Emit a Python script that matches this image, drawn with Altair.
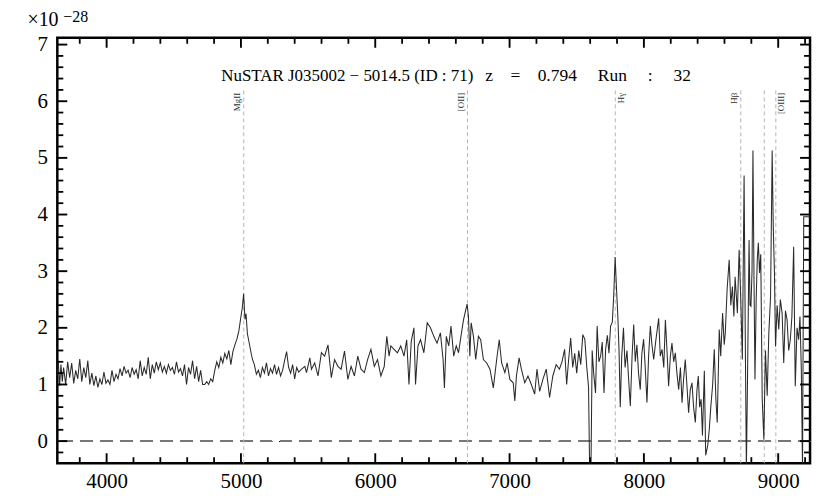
import altair as alt
import pandas as pd

# ---------------- data ----------------
wave = [
    3631, 3640, 3650, 3660, 3670, 3680, 3695, 3710, 3725, 3740, 3755, 3770, 3785, 3800, 3815, 3830,
    3845, 3860, 3875, 3890, 3905, 3920, 3935, 3950, 3965, 3980, 3995, 4010, 4025, 4040, 4055, 4070,
    4085, 4100, 4115, 4130, 4145, 4160, 4175, 4190, 4205, 4220, 4235, 4250, 4265, 4280, 4295, 4310,
    4325, 4340, 4355, 4370, 4385, 4400, 4415, 4430, 4445, 4460, 4475, 4490, 4505, 4520, 4535, 4550,
    4565, 4580, 4595, 4610, 4625, 4640, 4655, 4670, 4685, 4700, 4715, 4730, 4745, 4760, 4775, 4790,
    4805, 4820, 4835, 4850, 4865, 4880, 4895, 4910, 4925, 4940, 4955, 4970, 4985, 5000, 5010, 5020,
    5030, 5038, 5048, 5060, 5072, 5085, 5100, 5115, 5130, 5145, 5160, 5175, 5190, 5205, 5220, 5235,
    5250, 5265, 5280, 5295, 5310, 5325, 5340, 5355, 5370, 5385, 5400, 5415, 5430,
    5451, 5476, 5488, 5513, 5525, 5549, 5574, 5599, 5623, 5648, 5673, 5697, 5722, 5746, 5771, 5796,
    5820, 5845, 5870, 5894, 5919, 5943, 5968, 5993, 6017, 6042, 6067, 6086, 6103, 6116, 6140, 6165,
    6190, 6214, 6234, 6251, 6268, 6288, 6300, 6318, 6337, 6362, 6387, 6411, 6436, 6460, 6485, 6505,
    6515, 6529, 6547, 6564, 6584, 6603, 6620, 6638, 6657, 6672, 6684, 6694, 6704, 6714, 6731, 6748,
    6768, 6785, 6805, 6830, 6854, 6879, 6904, 6923, 6941, 6965, 6982, 7002, 7027, 7039, 7051, 7071,
    7088, 7113, 7137, 7162, 7187, 7204, 7224, 7248, 7273, 7298, 7322, 7347, 7371,
    7390, 7410, 7425, 7440, 7455, 7470, 7485, 7500, 7515, 7530, 7545, 7560, 7575, 7588, 7596, 7606,
    7615, 7626, 7640, 7652, 7665, 7678, 7690, 7703, 7715, 7728, 7740, 7752, 7765, 7776, 7786, 7796,
    7806, 7815, 7824, 7835, 7848, 7860, 7874, 7886, 7899, 7912, 7924, 7936, 7948, 7960, 7973, 7985,
    7998, 8010, 8023, 8035, 8048, 8060, 8073, 8090, 8110, 8122, 8135, 8148, 8160, 8172, 8184, 8197,
    8209, 8222, 8234, 8246, 8259, 8272, 8284, 8296, 8308, 8320, 8333, 8345, 8358, 8370, 8383, 8395,
    8405, 8415, 8426, 8436, 8450, 8460, 8475, 8487, 8498, 8512, 8524, 8536, 8546, 8561, 8572, 8586,
    8598, 8606,
    8620, 8635, 8647, 8659, 8670, 8679, 8690, 8696, 8709, 8720, 8733, 8746, 8756, 8763, 8772, 8783,
    8790, 8797, 8805, 8812, 8820, 8827, 8836, 8844, 8852, 8861, 8870, 8881, 8893, 8905, 8918, 8930,
    8943, 8955, 8963, 8972, 8980, 8992, 9004, 9016, 9029, 9041, 9054, 9066, 9078, 9090, 9102, 9115,
    9127, 9140, 9152, 9162, 9172, 9181, 9190, 9240,
]

flux = [
    1.15, 1.42, 0.98, 1.35, 1.05, 1.30, 1.00, 1.40, 1.12, 1.38, 1.02, 1.25, 1.10, 1.45, 1.05, 1.30,
    1.12, 1.42, 1.00, 1.20, 0.98, 1.15, 0.95, 1.10, 1.00, 1.22, 1.02, 1.08, 1.00, 1.25, 1.05, 1.18,
    1.10, 1.28, 1.15, 1.32, 1.20, 1.25, 1.12, 1.30, 1.18, 1.26, 1.10, 1.42, 1.15, 1.30, 1.18, 1.48,
    1.10, 1.35, 1.20, 1.40, 1.26, 1.38, 1.22, 1.32, 1.20, 1.35, 1.25, 1.30, 1.18, 1.40, 1.22, 1.28,
    1.15, 1.35, 1.00, 1.30, 1.18, 1.42, 1.10, 1.32, 1.05, 1.25, 1.00, 1.00, 1.05, 1.00, 1.10, 1.05,
    1.25, 1.40, 1.30, 1.48, 1.38, 1.55, 1.45, 1.60, 1.35, 1.58, 1.70, 1.80, 1.95, 2.20, 2.35, 2.60,
    2.15, 2.25, 1.90, 1.75, 1.60, 1.45, 1.35, 1.18, 1.25, 1.12, 1.30, 1.20, 1.38, 1.15, 1.28, 1.20,
    1.35, 1.18, 1.30, 1.15, 1.25, 1.42, 1.58, 1.30, 1.20, 1.35, 1.10, 1.30, 1.22,
    1.27, 1.32, 1.21, 1.47, 1.27, 1.38, 1.15, 1.56, 1.50, 1.70, 1.12, 1.44, 1.32, 1.27, 1.59, 1.09,
    1.32, 1.15, 1.50, 1.27, 1.21, 1.44, 1.62, 1.32, 1.44, 1.15, 1.32, 1.85, 1.50, 1.68, 1.62, 1.56,
    1.68, 1.50, 1.79, 1.00, 1.76, 2.00, 1.00, 1.68, 1.79, 1.56, 2.09, 2.00, 1.85, 1.73, 1.91, 1.44,
    0.94, 1.85, 1.68, 2.03, 1.50, 1.68, 1.56, 1.85, 2.14, 2.30, 2.42, 2.20, 1.50, 2.09, 1.85, 1.44,
    1.85, 1.79, 1.44, 1.38, 1.27, 0.94, 1.44, 1.79, 1.38, 1.21, 1.38, 1.09, 1.03, 0.71, 1.15, 1.47,
    1.27, 1.03, 1.15, 1.00, 0.83, 1.27, 0.88, 1.09, 1.27, 0.77, 1.15, 1.35, 1.27,
    1.40, 1.62, 1.00, 1.45, 1.82, 1.30, 1.55, 1.20, 1.60, 1.35, 1.88, 1.80, 1.30, 0.95, -0.50, -0.50,
    1.60, 1.20, 0.85, 2.03, 1.40, 1.50, 1.75, 0.85, 1.62, 1.87, 1.55, 2.03, 2.10, 2.60, 3.25, 2.70,
    2.20, 1.60, 0.60, 1.50, 2.00, 1.30, 1.60, 1.10, 0.62, 1.50, 2.06, 1.40, 1.70, 1.20, 0.91, 1.55,
    1.80, 1.30, 0.68, 1.50, 2.03, 1.70, 1.44, 1.80, 2.17, 1.50, 1.62, 1.30, 2.14, 1.60, 0.97, 1.50,
    1.73, 1.40, 1.56, 1.20, 0.91, 1.30, 0.68, 1.10, 1.44, 1.00, 0.50, 0.90, 1.03, 0.60, 0.33, 0.90,
    1.15, 0.60, 0.74, 0.10, 1.24, -0.25, -0.08, 0.21, 0.60, 1.00, 1.62, 0.74, 0.33, 1.97, 1.50, 2.26,
    1.70, 1.91,
    2.70, 3.20, 2.40, 2.73, 2.20, 2.90, 2.50, 2.26, 3.38, 2.60, 1.44, 4.69, 1.50, -0.50, 1.20, 3.55,
    2.40, 2.38, 3.00, 5.13, 2.80, 1.09, 2.50, 3.20, 3.50, 2.97, 3.30, 0.74, 0.03, 1.60, 0.80, 1.90,
    2.55, 5.13, 3.80, 2.97, 1.67, 2.40, 1.97, 2.50, 2.26, 1.38, 2.30, 2.14, 1.60, 1.79, 2.20, 3.43,
    0.97, 2.00, 1.79, 2.20, 1.27, -0.50, 3.96, 3.96,
]

line_names = ["MgII", "[OII]", "H\u03b3", "H\u03b2", "", "[OIII]"]
line_rest = [2798.75, 3727.4, 4340.47, 4861.33, 4958.91, 5006.84]
redshift = 0.794
right_side_labels = ["H\u03b3", "[OIII]"]

title_parts = [
    "NuSTAR J035002 \u2212 5014.5 (ID : 71)",
    "z\u2003=\u20030.794",
    "Run\u2003\u2009:\u2003\u200932",
]

x_domain = [3633, 9237]
y_domain = [-0.39, 7.12]
x_major = [4000, 5000, 6000, 7000, 8000, 9000]
x_minor = [3800, 4200, 4400, 4600, 4800, 5200, 5400, 5600, 5800, 6200, 6400, 6600, 6800,
           7200, 7400, 7600, 7800, 8200, 8400, 8600, 8800, 9200]
y_major = [0, 1, 2, 3, 4, 5, 6, 7]
y_minor = [-0.2, 0.2, 0.4, 0.6, 0.8, 1.2, 1.4, 1.6, 1.8, 2.2, 2.4, 2.6, 2.8, 3.2, 3.4, 3.6,
           3.8, 4.2, 4.4, 4.6, 4.8, 5.2, 5.4, 5.6, 5.8, 6.2, 6.4, 6.6, 6.8]

# ---------------- tables ----------------
spec_df = pd.DataFrame({"wave": wave, "flux": flux})
lines_df = pd.DataFrame({
    "name": line_names,
    "obs": [r * (1 + redshift) for r in line_rest],
})
lines_df["side"] = ["right" if n in right_side_labels else "left" for n in line_names]

W, H = 755.5, 427
serif = "Liberation Serif"
xs = alt.Scale(domain=x_domain, nice=False, zero=False)
ys = alt.Scale(domain=y_domain, nice=False, zero=False)
MAJ, MIN = 10, 6


def label_axis(orient, values, pad):
    return alt.Axis(
        orient=orient, values=values, format="d", ticks=False,
        labelPadding=pad, domain=False, grid=False, title=None,
        labelFont=serif, labelFontSize=21, labelColor="black",
        labelOverlap=False, labelFlush=False, labelBound=False,
    )


# ---------------- inward ticks on all four sides ----------------
def x_ticks_layer(values, length, width, name):
    df = pd.DataFrame({name: values})
    base = alt.Chart(df).mark_rule(color="black", strokeWidth=width)
    bottom = base.encode(x=alt.X(f"{name}:Q", scale=xs, axis=None),
                         y=alt.value(H), y2=alt.value(H - length))
    top = base.encode(x=alt.X(f"{name}:Q", scale=xs, axis=None),
                      y=alt.value(0), y2=alt.value(length))
    return [bottom, top]


def y_ticks_layer(values, length, width, name):
    df = pd.DataFrame({name: values})
    base = alt.Chart(df).mark_rule(color="black", strokeWidth=width)
    left = base.encode(y=alt.Y(f"{name}:Q", scale=ys, axis=None),
                       x=alt.value(0), x2=alt.value(length))
    right = base.encode(y=alt.Y(f"{name}:Q", scale=ys, axis=None),
                        x=alt.value(W), x2=alt.value(W - length))
    return [left, right]


tick_layers = (x_ticks_layer(x_major, MAJ, 1.9, "xmaj") + x_ticks_layer(x_minor, MIN, 1.8, "xmin")
               + y_ticks_layer(y_major, MAJ, 1.9, "ymaj") + y_ticks_layer(y_minor, MIN, 1.8, "ymin"))

zero_rule = alt.Chart(spec_df).mark_rule(
    color="#777777", strokeWidth=2, strokeDash=[12, 8]
).encode(y=alt.Y(datum=0, scale=ys, axis=None))

vlines = alt.Chart(lines_df).mark_rule(
    color="#b5b5b5", strokeWidth=1, strokeDash=[4, 3]
).encode(
    x=alt.X("obs:Q", scale=xs, axis=None),
    y=alt.Y(datum=6.19, scale=ys, axis=None),
    y2=alt.Y2(datum=y_domain[0]),
)

spectrum = alt.Chart(spec_df).mark_line(
    color="#2a2a2a", strokeWidth=1.05, clip=True
).encode(
    x=alt.X("wave:Q", scale=xs, axis=label_axis("bottom", x_major, 7)),
    y=alt.Y("flux:Q", scale=ys, axis=label_axis("left", y_major, 10)),
    order="wave:Q",
)

left_labels = alt.Chart(lines_df).transform_filter(
    "datum.side === 'left'"
).transform_calculate(ly="6.15").mark_text(
    angle=270, align="right", baseline="bottom", dy=-1.5,
    font=serif, fontSize=9, color="#333333"
).encode(
    x=alt.X("obs:Q", scale=xs, axis=None),
    y=alt.Y("ly:Q", scale=ys, axis=None),
    text="name:N",
)

right_labels = alt.Chart(lines_df).transform_filter(
    "datum.side === 'right'"
).transform_calculate(ly="6.15").mark_text(
    angle=270, align="right", baseline="top", dy=1.5,
    font=serif, fontSize=9, color="#333333"
).encode(
    x=alt.X("obs:Q", scale=xs, axis=None),
    y=alt.Y("ly:Q", scale=ys, axis=None),
    text="name:N",
)

title_df = pd.DataFrame({"p1": [title_parts[0]], "p2": [title_parts[1]], "p3": [title_parts[2]]})
title1 = alt.Chart(title_df).mark_text(
    align="left", baseline="middle", font=serif, fontSize=17, color="black"
).encode(x=alt.value(164.5), y=alt.value(38), text="p1:N")
title2 = alt.Chart(title_df).mark_text(
    align="left", baseline="middle", font=serif, fontSize=17.5, color="black"
).encode(x=alt.value(429.5), y=alt.value(38), text="p2:N")
title3 = alt.Chart(title_df).mark_text(
    align="left", baseline="middle", font=serif, fontSize=17.5, color="black"
).encode(x=alt.value(542.5), y=alt.value(38), text="p3:N")

exp_df = pd.DataFrame({"a": ["\u00d710"], "b": ["\u221228"]})
times_ten = alt.Chart(exp_df).mark_text(
    align="left", baseline="middle", font=serif, fontSize=20, color="black"
).encode(x=alt.value(-30), y=alt.value(-18), text="a:N")
exponent = alt.Chart(exp_df).mark_text(
    align="left", baseline="middle", font=serif, fontSize=16, color="black"
).encode(x=alt.value(6), y=alt.value(-21), text="b:N")

chart = alt.layer(
    zero_rule, vlines, spectrum, *tick_layers, left_labels, right_labels,
    title1, title2, title3, times_ten, exponent
).resolve_axis(
    x="independent", y="independent"
).properties(
    width=W, height=H, autosize="none",
    padding={"left": 49.5, "top": 29, "right": 12, "bottom": 30},
).configure_view(
    stroke="black", strokeWidth=2.5
)

chart.save("out.html", embed_options={"renderer": "svg", "actions": False})
